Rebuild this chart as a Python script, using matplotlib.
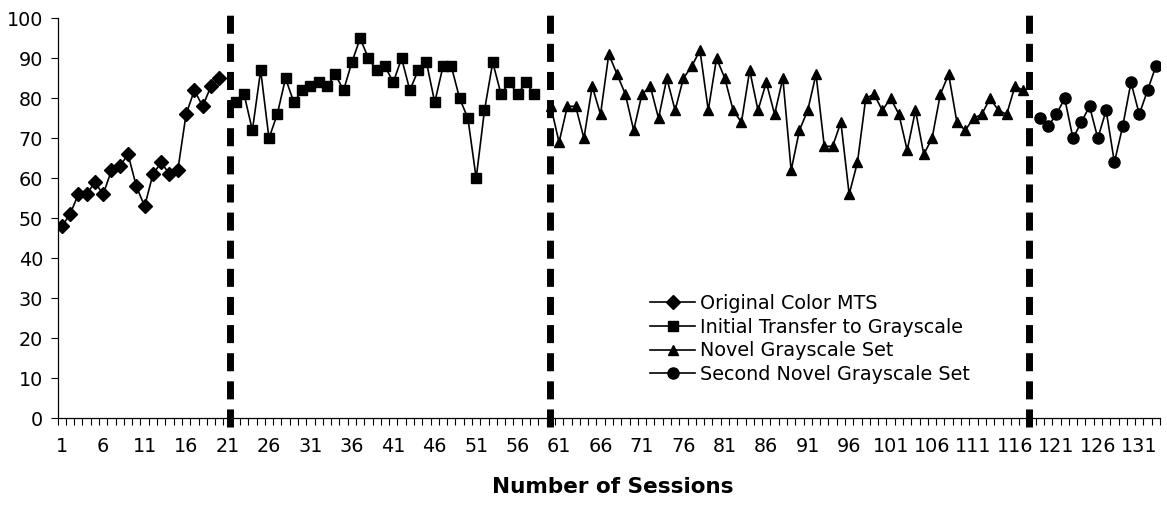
import matplotlib
matplotlib.use("Agg")
import matplotlib.pyplot as plt
import numpy as np

# accuracy per session
original_color = [48, 51, 56, 56, 59, 56, 62, 63, 66, 58, 53, 61, 64, 61, 62, 76, 82, 78, 83, 85]
initial_transfer = [79, 81, 72, 87, 70, 76, 85, 79, 82, 83, 84, 83, 86, 82, 89, 95, 90, 87, 88,
                    84, 90, 82, 87, 89, 79, 88, 88, 80, 75, 60, 77, 89, 81, 84, 81, 84, 81]
novel_gray = [78, 69, 78, 78, 70, 83, 76, 91, 86, 81, 72, 81, 83, 75, 85, 77, 85, 88, 92, 77,
              90, 85, 77, 74, 87, 77, 84, 76, 85, 62, 72, 77, 86, 68, 68, 74, 56, 64, 80, 81,
              77, 80, 76, 67, 77, 66, 70, 81, 86, 74, 72, 75, 76, 80, 77, 76, 83, 82]
second_novel = [75, 73, 76, 80, 70, 74, 78, 70, 77, 64, 73, 84, 76, 82, 88]

# first session of each phase
phase_starts = [1, 22, 60, 119]
phase_breaks = [21.3, 59.9, 117.7]
n_sessions = 133

series = [
    ("Original Color MTS", original_color, "D", 7),
    ("Initial Transfer to Grayscale", initial_transfer, "s", 6.5),
    ("Novel Grayscale Set", novel_gray, "^", 7.5),
    ("Second Novel Grayscale Set", second_novel, "o", 8),
]

plt.rcParams['font.family'] = ['DejaVu Sans']
W, H = 1167, 508
fig = plt.figure(figsize=(W / 100, H / 100), dpi=100)
ax = fig.add_axes([57.6 / W, 1 - 418.3 / H, (1160 - 57.6) / W, 400 / H])

for (label, vals, mk, ms), start in zip(series, phase_starts):
    x = np.arange(start, start + len(vals))
    ax.plot(x, vals, color="black", lw=1.2, marker=mk, markersize=ms,
            markerfacecolor="black", markeredgecolor="black", label=label)

for xb in phase_breaks:
    ax.plot([xb, xb], [-2.2, 100.8], color="black", lw=5, dashes=(2.6, 1.45),
            solid_capstyle="butt", dash_capstyle="butt", clip_on=False)

ax.set_xlim(0.5, n_sessions + 0.5)
ax.set_ylim(0, 100)
ax.set_yticks(np.arange(0, 101, 10))
ax.set_xticks(np.arange(1, n_sessions + 1, 5))
ax.set_xticks(np.arange(0.5, n_sessions + 1, 1), minor=True)
ax.tick_params(axis="x", which="major", length=0, pad=13.5, labelsize=13.8)
ax.tick_params(axis="x", which="minor", length=5, direction="out", width=0.8)
ax.tick_params(axis="y", length=5, direction="out", pad=5.5, labelsize=13.8, width=0.8)

for side in ["top", "right"]:
    ax.spines[side].set_visible(False)
for side in ["left", "bottom"]:
    ax.spines[side].set_linewidth(0.9)

fig.text(613 / W, 1 - 493 / H, "Number of Sessions", fontsize=15.5,
         fontweight="bold", ha="center", va="baseline")

ax.legend(loc="center left", bbox_to_anchor=(650 / W, 1 - 339 / H),
          bbox_transform=fig.transFigure, frameon=False, fontsize=13.8,
          labelspacing=0.25, handlelength=2.35, handletextpad=0.26,
          borderpad=0, borderaxespad=0)

fig.savefig("out.png", dpi=100)
